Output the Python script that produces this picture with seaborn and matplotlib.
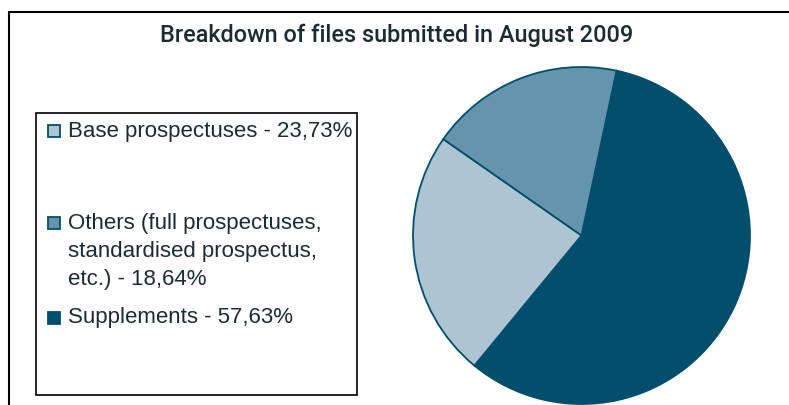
import matplotlib
matplotlib.use("Agg")
import matplotlib.pyplot as plt
from matplotlib.patches import Rectangle
from matplotlib.lines import Line2D
import seaborn as sns

# data
categories = ["Supplements", "Base prospectuses", "Others"]
shares = [57.63, 23.73, 18.64]
colors = ["#034e6c", "#adc5d2", "#6595ad"]
legend_lines = [
    ["Base prospectuses - 23,73%"],
    ["Others (full prospectuses,", "standardised prospectus,", "etc.) - 18,64%"],
    ["Supplements - 57,63%"],
]
legend_colors = ["#adc5d2", "#6595ad", "#034e6c"]

sns.set_theme(style="white")
plt.rcParams["font.family"] = ["Liberation Sans", "DejaVu Sans"]

W, H = 789, 405
fig = plt.figure(figsize=(W / 100, H / 100), dpi=100)
txt_color = "#1c2b33"
edge = "#034e6c"


def fx(px):
    return px / W


def fy(py):
    return 1 - py / H


# pie axes placed by pixel geometry of the reference
cx, cy, r = 581.5, 235.5, 168.5
ax = fig.add_axes([fx(cx - r), fy(cy + r), 2 * r / W, 2 * r / H])
ax.pie(shares, colors=colors, startangle=78, counterclock=False,
       wedgeprops=dict(edgecolor=edge, linewidth=1.3))
ax.set_xlim(-1, 1)
ax.set_ylim(-1, 1)
ax.set_aspect("equal")

# outer chart frame (partially cropped)
fig.add_artist(Line2D([fx(8.5), fx(8.5)], [0, fy(11.5)], color="black", lw=1.5))
fig.add_artist(Line2D([fx(8.5), 1], [fy(11.5), fy(11.5)], color="black", lw=1.5))

fig.text(fx(397), fy(41.7), "Breakdown of files submitted in August 2009",
         ha="center", va="baseline", fontsize=16.9, color=txt_color,
         fontweight="medium", family=["Roboto", "Liberation Sans", "DejaVu Sans"])

# legend box
fig.add_artist(Rectangle((fx(36), fy(395)), (357 - 36) / W, (395 - 113) / H,
                         transform=fig.transFigure, fill=False,
                         edgecolor="black", lw=1.2))
baselines = [[137], [229, 257, 285.5], [323.5]]
for lines, bls, col in zip(legend_lines, baselines, legend_colors):
    y0 = bls[0]
    fig.add_artist(Rectangle((fx(48), fy(y0)), 12 / W, 12 / H,
                             transform=fig.transFigure, facecolor=col,
                             edgecolor=edge, lw=1.3))
    for line, b in zip(lines, bls):
        fig.text(fx(68), fy(b), line, ha="left", va="baseline",
                 fontsize=16, color=txt_color)

fig.savefig("out.png", dpi=100)
